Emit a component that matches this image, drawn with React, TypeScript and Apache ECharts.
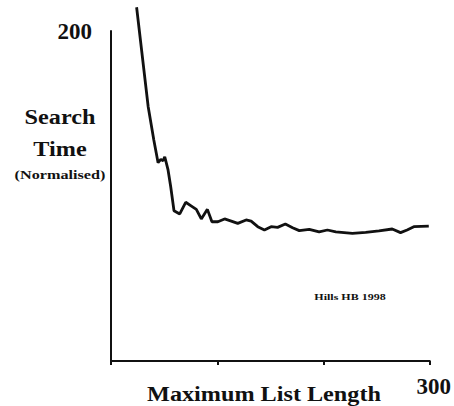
import React, { useEffect, useRef } from "react";
import * as echarts from "echarts";

const listLength = [24.1, 35.0, 40.3, 44.3, 46.9, 49.0, 50.6, 53.7, 56.2, 59.3, 64.7, 70.3, 75.7, 80.3, 85.0, 90.7, 95.0, 100.6, 106.9, 113.2, 119.3, 127.2, 131.9, 138.1, 144.4, 150.7, 156.8, 164.1, 170.9, 177.2, 186.6, 195.9, 203.7, 211.6, 227.2, 239.7, 252.2, 264.7, 272.5, 278.7, 285.0, 299.1];
const searchTime = [214.4, 154.1, 133.9, 120.2, 122.2, 121.4, 123.8, 115.8, 105.6, 91.1, 89.1, 96.2, 93.9, 91.9, 86.1, 91.9, 84.4, 84.4, 86.1, 84.8, 83.4, 85.5, 84.8, 81.4, 79.4, 81.4, 81.0, 83.0, 80.8, 79.0, 79.8, 78.2, 79.4, 78.2, 77.3, 78.0, 78.8, 80.0, 77.8, 79.4, 81.4, 81.8];
const yTickLabels = ["200"];
const xTickLabels = ["300"];

const SERIF = '"Liberation Serif", "Times New Roman", serif';

export default function App() {
  const ref = useRef<HTMLDivElement>(null);
  useEffect(() => {
    if (!ref.current) return;
    const chart = echarts.init(ref.current, undefined, { renderer: "svg" });
    const data = listLength.map((x, i) => [x, searchTime[i]]);
    const txt = (text: string, x: number, y: number, font: string, scaleX = 1) => ({
      type: "text",
      x,
      y,
      scaleX,
      style: {
        text,
        font,
        fill: "#111",
        align: "center",
        verticalAlign: "middle",
        textAlign: "center",
        textVerticalAlign: "middle",
      },
    });
    chart.setOption({
      animation: false,
      backgroundColor: "#fff",
      grid: { left: 111, right: 23, top: 31, bottom: 45 },
      xAxis: {
        type: "value",
        min: 0,
        max: 300,
        interval: 100,
        splitLine: { show: false },
        axisLine: { show: true, lineStyle: { color: "#111", width: 2 } },
        axisTick: { show: true, length: 4, lineStyle: { color: "#111", width: 2 } },
        axisLabel: {
          margin: 14,
          color: "#111",
          fontFamily: SERIF,
          fontWeight: "bold",
          fontSize: 23,
          padding: [0, 0, 0, 8],
          formatter: (v: number) => (xTickLabels.includes(String(v)) ? String(v) : ""),
        },
      },
      yAxis: {
        type: "value",
        min: 0,
        max: 200,
        interval: 200,
        splitLine: { show: false },
        axisLine: { show: true, lineStyle: { color: "#111", width: 2 } },
        axisTick: { show: false },
        axisLabel: {
          margin: 19,
          color: "#111",
          fontFamily: SERIF,
          fontWeight: "bold",
          fontSize: 23,
          formatter: (v: number) => (yTickLabels.includes(String(v)) ? String(v) : ""),
        },
      },
      series: [
        {
          type: "line",
          data,
          showSymbol: false,
          symbol: "none",
          clip: false,
          lineStyle: { color: "#111", width: 2.8 },
        },
      ],
      graphic: [
        txt("Search", 60, 116, `bold 22px ${SERIF}`, 1.1),
        txt("Time", 60, 148, `bold 22px ${SERIF}`, 1.1),
        txt("(Normalised)", 60, 175, `bold 12px ${SERIF}`, 1.35),
        txt("Maximum List Length", 264, 393, `bold 22px ${SERIF}`, 1.1),
        txt("Hills HB 1998", 350, 297, `bold 8px ${SERIF}`, 1.5),
      ],
    });
    return () => chart.dispose();
  }, []);
  return (
    <div
      ref={ref}
      style={{ position: "fixed", left: 0, top: 0, width: 454, height: 406 }}
    />
  );
}
